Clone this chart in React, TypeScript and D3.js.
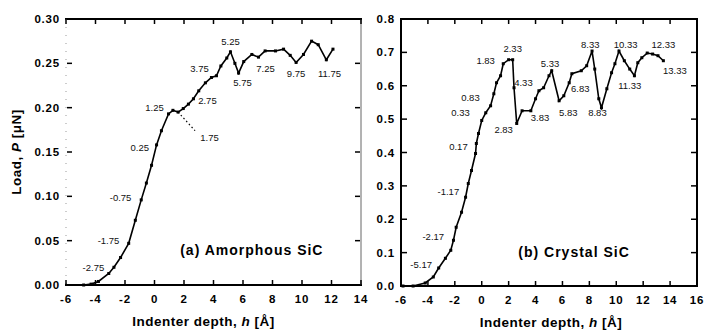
import React from "react";
import * as d3 from "d3";

// ---------- data ----------
const amorphH = [-4.8, -4.3, -3.8, -3.1, -2.75, -2.3, -1.75, -1.3, -0.9, -0.55, -0.2, 0.14, 0.47, 0.95, 1.25, 1.6, 1.95, 2.3, 2.64, 3.0, 3.45, 3.86, 4.2, 4.5, 4.9, 5.15, 5.45, 5.7, 6.05, 6.6, 7.05, 7.5, 8.2, 8.75, 9.2, 9.6, 10.1, 10.65, 11.1, 11.65, 12.1];
const amorphP = [0.0, 0.001, 0.004, 0.013, 0.02, 0.031, 0.047, 0.073, 0.096, 0.115, 0.135, 0.158, 0.174, 0.193, 0.197, 0.195, 0.199, 0.204, 0.21, 0.219, 0.228, 0.234, 0.236, 0.247, 0.256, 0.263, 0.25, 0.239, 0.252, 0.26, 0.257, 0.264, 0.264, 0.266, 0.259, 0.251, 0.26, 0.275, 0.271, 0.254, 0.266];

const crystalH = [-5.85, -5.1, -4.2, -3.6, -3.2, -2.7, -2.3, -2.1, -1.9, -1.5, -1.2, -1.0, -0.76, -0.46, -0.4, -0.24, 0, 0.3, 0.66, 0.9, 1.1, 1.4, 1.6, 2.0, 2.3, 2.4, 2.6, 3.0, 3.65, 4.0, 4.25, 4.6, 5.0, 5.2, 5.75, 6.1, 6.5, 6.7, 7.4, 7.8, 8.2, 8.4, 8.7, 8.9, 9.3, 9.65, 9.9, 10.2, 10.6, 11.0, 11.35, 11.6, 11.9, 12.3, 12.7, 13.1, 13.5];
const crystalP = [0, 0, 0.009, 0.027, 0.054, 0.083, 0.107, 0.137, 0.176, 0.221, 0.266, 0.307, 0.346, 0.397, 0.427, 0.457, 0.496, 0.519, 0.54, 0.576, 0.609, 0.63, 0.666, 0.678, 0.678, 0.594, 0.487, 0.525, 0.525, 0.561, 0.585, 0.594, 0.63, 0.645, 0.555, 0.57, 0.609, 0.636, 0.645, 0.66, 0.704, 0.65, 0.561, 0.534, 0.591, 0.639, 0.666, 0.704, 0.675, 0.65, 0.63, 0.669, 0.684, 0.698, 0.695, 0.69, 0.675];

// annotation labels: text and anchor (h, P) in data units
const amorphLabelText = ["-2.75", "-1.75", "-0.75", "0.25", "1.25", "1.75", "2.75", "3.75", "5.25", "5.75", "7.25", "9.75", "11.75"];
const amorphLabelH = [-4.14, -3.12, -2.3, -1.0, 0.0, 3.73, 3.59, 3.05, 5.15, 5.97, 7.53, 9.6, 11.86];
const amorphLabelP = [0.02, 0.0506, 0.099, 0.155, 0.2, 0.166, 0.208, 0.244, 0.275, 0.228, 0.244, 0.239, 0.239];
// dotted leader for the "1.75" label: from point (h, P) to near label
const amorphLeaderH = [1.6, 2.75];
const amorphLeaderP = [0.195, 0.174];

const crystalLabelText = ["-5.17", "-2.17", "-1.17", "0.17", "0.33", "0.83", "1.83", "2.33", "4.33", "2.83", "3.83", "5.33", "5.83", "6.83", "8.83", "8.33", "10.33", "11.33", "12.33", "13.33"];
const crystalLabelH = [-4.5, -3.6, -2.48, -1.73, -1.58, -0.84, 0.29, 2.3, 3.1, 1.63, 4.33, 5.08, 6.43, 7.32, 8.6, 8.07, 10.7, 11.0, 13.5, 14.36];
const crystalLabelP = [0.063, 0.149, 0.284, 0.418, 0.519, 0.564, 0.675, 0.713, 0.609, 0.47, 0.504, 0.666, 0.519, 0.591, 0.519, 0.725, 0.725, 0.6, 0.725, 0.645];

const amorphXTicks = [-6, -4, -2, 0, 2, 4, 6, 8, 10, 12, 14];
const amorphYTicks = [0, 0.05, 0.1, 0.15, 0.2, 0.25, 0.3];
const crystalXTicks = [-6, -4, -2, 0, 2, 4, 6, 8, 10, 12, 14, 16];
const crystalYTicks = [0, 0.1, 0.2, 0.3, 0.4, 0.5, 0.6, 0.7, 0.8];

const FONT = "'Liberation Sans', Arial, sans-serif";

type PanelProps = {
  H: number[]; P: number[];
  xDomain: [number, number]; yDomain: [number, number];
  xRange: [number, number]; yRange: [number, number];
  xTicks: number[]; yTicks: number[]; yFmt: (v: number) => string;
  labelText: string[]; labelH: number[]; labelP: number[];
  leaderH?: number[]; leaderP?: number[];
  title: string; titleH: number; titleP: number;
  xLabelShift: number;
  faintSides: boolean;
};

function Panel(p: PanelProps) {
  const x = d3.scaleLinear().domain(p.xDomain).range(p.xRange);
  const y = d3.scaleLinear().domain(p.yDomain).range(p.yRange);
  const pts = p.H.map((h, i) => [h, p.P[i]] as [number, number]);
  const line = d3.line<[number, number]>().x(d => x(d[0])).y(d => y(d[1]));
  const [x0, x1] = p.xRange;
  const [yb, yt] = p.yRange;
  const tl = 5;
  const leader = p.leaderH && p.leaderP ? p.leaderH.map((h, i) => [h, p.leaderP![i]] as [number, number]) : null;
  return (
    <g>
      {/* frame */}
      <line x1={x0 - 1} x2={x1 + 1} y1={yt} y2={yt} stroke="#000" strokeWidth={2.2} />
      <line x1={x0 - 1} x2={x1 + 1} y1={yb} y2={yb} stroke="#000" strokeWidth={2.2} />
      {p.faintSides ? (
        <>
          <line x1={x0} x2={x0} y1={yt} y2={yb} stroke="#999" strokeWidth={1} strokeDasharray="1,7" />
          <line x1={x1} x2={x1} y1={yt} y2={yb} stroke="#666" strokeWidth={1} />
        </>
      ) : (
        <>
          <line x1={x0} x2={x0} y1={yt} y2={yb} stroke="#000" strokeWidth={2} />
          <line x1={x1} x2={x1} y1={yt} y2={yb} stroke="#000" strokeWidth={2} />
        </>
      )}
      {/* x ticks */}
      {p.xTicks.map(t => (
        <g key={"xt" + t}>
          <line x1={x(t)} x2={x(t)} y1={yb} y2={yb - tl} stroke="#000" strokeWidth={1.5} />
          <line x1={x(t)} x2={x(t)} y1={yt} y2={yt + tl} stroke="#000" strokeWidth={1.5} />
          <text x={x(t)} y={yb + 18} textAnchor="middle" fontFamily={FONT} fontWeight="bold" fontSize={11.5} letterSpacing={0.8}>{t}</text>
        </g>
      ))}
      {/* y ticks */}
      {p.yTicks.map(t => (
        <g key={"yt" + t}>
          <line x1={x0 + 1} x2={x0 + 1 + tl} y1={y(t)} y2={y(t)} stroke="#000" strokeWidth={1.5} />
          <line x1={x1 - 1} x2={x1 - 1 - tl} y1={y(t)} y2={y(t)} stroke="#000" strokeWidth={1.5} />
          <text x={x0 - 6} y={y(t) + 4} textAnchor="end" fontFamily={FONT} fontWeight="bold" fontSize={11.5} letterSpacing={0.8}>{p.yFmt(t)}</text>
        </g>
      ))}
      {/* curve */}
      <path d={line(pts) || ""} fill="none" stroke="#000" strokeWidth={1.6} />
      {pts.map((d, i) => (
        <rect key={"m" + i} x={x(d[0]) - 1.5} y={y(d[1]) - 1.5} width={3} height={3} fill="#000" />
      ))}
      {leader && (
        <path d={line(leader) || ""} fill="none" stroke="#000" strokeWidth={1.2} strokeDasharray="1.5,2.5" />
      )}
      {/* point labels */}
      {p.labelText.map((t, i) => (
        <text key={"l" + i} x={x(p.labelH[i])} y={y(p.labelP[i]) + 3.5} textAnchor="middle" fontFamily={FONT} fontSize={9.5} fill="#111">{t}</text>
      ))}
      {/* title */}
      <text x={x(p.titleH)} y={y(p.titleP) + 5} textAnchor="middle" fontFamily={FONT} fontWeight="bold" fontSize={14} letterSpacing={1}>{p.title}</text>
      {/* x axis label */}
      <text x={(x0 + x1) / 2 + p.xLabelShift} y={yb + 41} textAnchor="middle" fontFamily={FONT} fontWeight="bold" fontSize={13.5} letterSpacing={0.5}>
        Indenter depth, <tspan fontStyle="italic">h</tspan> [Å]
      </text>
    </g>
  );
}

export default function App() {
  return (
    <svg width={705} height={331} style={{ position: "absolute", left: 0, top: 0, background: "#fff" }}>
      <rect width={705} height={331} fill="#fff" />
      <Panel
        H={amorphH} P={amorphP}
        xDomain={[-6, 14]} yDomain={[0, 0.3]}
        xRange={[66, 361]} yRange={[285, 19]}
        xTicks={amorphXTicks} yTicks={amorphYTicks} yFmt={d3.format(".2f")}
        labelText={amorphLabelText} labelH={amorphLabelH} labelP={amorphLabelP}
        leaderH={amorphLeaderH} leaderP={amorphLeaderP}
        title="(a) Amorphous SiC" titleH={6.6} titleP={0.039}
        xLabelShift={-10}
        faintSides={true}
      />
      <Panel
        H={crystalH} P={crystalP}
        xDomain={[-6, 16]} yDomain={[0, 0.8]}
        xRange={[401, 697]} yRange={[286, 19]}
        xTicks={crystalXTicks} yTicks={crystalYTicks} yFmt={d3.format(".1f")}
        labelText={crystalLabelText} labelH={crystalLabelH} labelP={crystalLabelP}
        title="(b) Crystal SiC" titleH={6.86} titleP={0.102}
        xLabelShift={2}
        faintSides={false}
      />
      <text transform="translate(21,152) rotate(-90)" textAnchor="middle" fontFamily={FONT} fontWeight="bold" fontSize={13.5} letterSpacing={0.5}>
        Load, <tspan fontStyle="italic">P</tspan> [μN]
      </text>
    </svg>
  );
}
